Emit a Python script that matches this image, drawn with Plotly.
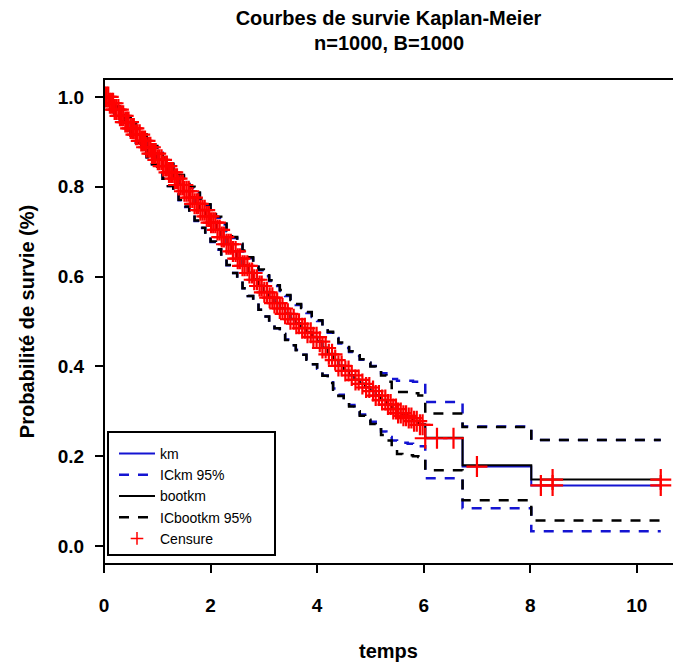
import numpy as np
import plotly.graph_objects as go

# ---------------- data ----------------
km_time = [0.0, 0.1, 0.2, 0.3, 0.4, 0.5, 0.6, 0.7, 0.8, 0.9,
           1.0, 1.1, 1.2, 1.3, 1.4, 1.5, 1.6, 1.7, 1.8, 1.9,
           2.0, 2.1, 2.2, 2.3, 2.4, 2.5, 2.6, 2.7, 2.8, 2.9,
           3.0, 3.1, 3.2, 3.3, 3.4, 3.5, 3.6, 3.7, 3.8, 3.9,
           4.0, 4.1, 4.2, 4.3, 4.4, 4.5, 4.6, 4.7, 4.8, 4.9,
           5.0, 5.1, 5.2, 5.3, 5.4, 5.5, 5.6, 5.7, 5.8, 5.9,
           6.03, 6.73, 8.02, 10.45]
km_surv = [1.000, 0.986, 0.972, 0.958, 0.944, 0.930, 0.916, 0.902, 0.888, 0.874,
           0.860, 0.846, 0.832, 0.818, 0.804, 0.790, 0.776, 0.762, 0.748, 0.734,
           0.720, 0.704, 0.688, 0.672, 0.656, 0.640, 0.624, 0.608, 0.593, 0.579,
           0.565, 0.553, 0.541, 0.529, 0.517, 0.505, 0.495, 0.485, 0.475, 0.465,
           0.455, 0.441, 0.427, 0.414, 0.401, 0.390, 0.380, 0.370, 0.361, 0.353,
           0.345, 0.335, 0.325, 0.315, 0.305, 0.296, 0.290, 0.285, 0.278, 0.270,
           0.240, 0.177, 0.135, 0.135]
km_low = [1.000, 0.981, 0.963, 0.946, 0.930, 0.914, 0.898, 0.882, 0.866, 0.850,
          0.834, 0.818, 0.802, 0.786, 0.770, 0.755, 0.739, 0.724, 0.708, 0.693,
          0.677, 0.660, 0.643, 0.625, 0.608, 0.591, 0.574, 0.557, 0.541, 0.526,
          0.511, 0.498, 0.485, 0.472, 0.460, 0.447, 0.437, 0.426, 0.416, 0.405,
          0.395, 0.380, 0.365, 0.351, 0.337, 0.325, 0.314, 0.303, 0.293, 0.285,
          0.277, 0.266, 0.255, 0.243, 0.235, 0.232, 0.230, 0.228, 0.226, 0.222,
          0.151, 0.084, 0.033, 0.033]
km_up = [1.000, 0.990, 0.979, 0.967, 0.954, 0.941, 0.928, 0.915, 0.902, 0.889,
         0.876, 0.863, 0.850, 0.837, 0.824, 0.811, 0.798, 0.785, 0.772, 0.759,
         0.746, 0.731, 0.716, 0.701, 0.686, 0.671, 0.656, 0.641, 0.627, 0.614,
         0.601, 0.590, 0.579, 0.568, 0.557, 0.546, 0.537, 0.528, 0.519, 0.510,
         0.501, 0.488, 0.475, 0.463, 0.451, 0.441, 0.432, 0.423, 0.415, 0.408,
         0.401, 0.393, 0.385, 0.378, 0.372, 0.368, 0.368, 0.368, 0.366, 0.362,
         0.321, 0.266, 0.236, 0.236]
boot_surv = [1.000, 0.986, 0.973, 0.959, 0.945, 0.931, 0.917, 0.903, 0.889, 0.875,
             0.861, 0.847, 0.833, 0.819, 0.805, 0.791, 0.777, 0.763, 0.749, 0.735,
             0.721, 0.705, 0.689, 0.673, 0.657, 0.641, 0.625, 0.609, 0.594, 0.580,
             0.566, 0.554, 0.542, 0.530, 0.518, 0.506, 0.496, 0.486, 0.476, 0.466,
             0.456, 0.442, 0.428, 0.415, 0.402, 0.391, 0.381, 0.371, 0.362, 0.354,
             0.346, 0.336, 0.326, 0.316, 0.306, 0.297, 0.291, 0.286, 0.279, 0.271,
             0.241, 0.180, 0.148, 0.148]
boot_low = [1.000, 0.981, 0.963, 0.946, 0.930, 0.914, 0.898, 0.882, 0.866, 0.850,
            0.834, 0.818, 0.802, 0.787, 0.771, 0.756, 0.740, 0.725, 0.709, 0.694,
            0.678, 0.661, 0.643, 0.626, 0.608, 0.591, 0.574, 0.557, 0.541, 0.526,
            0.511, 0.498, 0.485, 0.472, 0.459, 0.447, 0.436, 0.426, 0.415, 0.405,
            0.394, 0.379, 0.363, 0.348, 0.334, 0.322, 0.311, 0.300, 0.290, 0.281,
            0.272, 0.260, 0.247, 0.235, 0.222, 0.205, 0.203, 0.202, 0.200, 0.198,
            0.169, 0.102, 0.057, 0.057]
boot_up = [1.000, 0.990, 0.979, 0.968, 0.955, 0.942, 0.929, 0.917, 0.904, 0.891,
           0.878, 0.865, 0.852, 0.839, 0.826, 0.813, 0.800, 0.787, 0.774, 0.761,
           0.748, 0.733, 0.718, 0.703, 0.688, 0.673, 0.658, 0.643, 0.629, 0.616,
           0.603, 0.592, 0.581, 0.570, 0.559, 0.548, 0.539, 0.530, 0.521, 0.512,
           0.503, 0.490, 0.477, 0.465, 0.453, 0.443, 0.434, 0.425, 0.416, 0.408,
           0.400, 0.390, 0.380, 0.366, 0.352, 0.343, 0.343, 0.343, 0.340, 0.335,
           0.295, 0.265, 0.236, 0.236]

censor_time = [0.02, 0.05, 0.08, 0.11, 0.14, 0.17, 0.2, 0.23, 0.27, 0.3, 0.33, 0.36, 0.4,
               0.43, 0.46, 0.5, 0.53, 0.56, 0.6, 0.63, 0.67, 0.7, 0.73, 0.77, 0.8, 0.84,
               0.87, 0.9, 0.94, 0.97, 1.01, 1.04, 1.08, 1.11, 1.15, 1.18, 1.22, 1.26, 1.29,
               1.33, 1.37, 1.4, 1.44, 1.48, 1.51, 1.55, 1.59, 1.62, 1.66, 1.7, 1.74, 1.77,
               1.81, 1.85, 1.89, 1.93, 1.97, 2.01, 2.05, 2.09, 2.13, 2.17, 2.21, 2.25, 2.3,
               2.34, 2.38, 2.42, 2.47, 2.51, 2.55, 2.6, 2.64, 2.69, 2.73, 2.78, 2.82, 2.87,
               2.92, 2.96, 3.01, 3.06, 3.11, 3.16, 3.2, 3.25, 3.3, 3.35, 3.4, 3.45, 3.5,
               3.56, 3.61, 3.66, 3.72, 3.77, 3.82, 3.88, 3.93, 3.99, 4.05, 4.1, 4.16, 4.22,
               4.28, 4.34, 4.4, 4.46, 4.53, 4.59, 4.65, 4.72, 4.78, 4.85, 4.92, 4.98, 5.05,
               5.1, 5.16, 5.22, 5.28, 5.33, 5.38, 5.43, 5.48, 5.52, 5.57, 5.62, 5.67, 5.72,
               5.77, 5.82, 5.87, 5.93, 5.98, 6.03, 6.25, 6.56, 7.0, 8.2, 8.42, 10.45]
boot_censor_time = [8.42, 10.45]

x_ticks = [0, 2, 4, 6, 8, 10]
y_ticks = [0.0, 0.2, 0.4, 0.6, 0.8, 1.0]

title_line1 = "Courbes de survie Kaplan-Meier"
title_line2 = "n=1000, B=1000"
x_label = "temps"
y_label = "Probabilité de survie (%)"

# ---------------- figure ----------------
BLUE = "#1414d2"
BLACK = "#000000"
RED = "#ff0000"
FONT = "Liberation Sans, Arial, sans-serif"


def step_at(times, values, t):
    idx = np.searchsorted(np.asarray(times), np.asarray(t), side="right") - 1
    return np.asarray(values)[idx]


dash = "10px,9px"
fig = go.Figure()

fig.add_trace(go.Scatter(x=km_time, y=km_surv, mode="lines", line_shape="hv",
                         line=dict(color=BLUE, width=2), name="km"))
fig.add_trace(go.Scatter(x=km_time, y=km_low, mode="lines", line_shape="hv",
                         line=dict(color=BLUE, width=2.5, dash=dash),
                         name="ICkm 95%", legendgroup="ickm"))
fig.add_trace(go.Scatter(x=km_time, y=km_up, mode="lines", line_shape="hv",
                         line=dict(color=BLUE, width=2.5, dash=dash),
                         name="ICkm 95%", legendgroup="ickm", showlegend=False))
fig.add_trace(go.Scatter(x=km_time, y=boot_surv, mode="lines", line_shape="hv",
                         line=dict(color=BLACK, width=2), name="bootkm"))
fig.add_trace(go.Scatter(x=km_time, y=boot_low, mode="lines", line_shape="hv",
                         line=dict(color=BLACK, width=2.5, dash=dash),
                         name="ICbootkm 95%", legendgroup="icboot"))
fig.add_trace(go.Scatter(x=km_time, y=boot_up, mode="lines", line_shape="hv",
                         line=dict(color=BLACK, width=2.5, dash=dash),
                         name="ICbootkm 95%", legendgroup="icboot", showlegend=False))

cx = np.asarray(censor_time)
fig.add_trace(go.Scatter(x=cx, y=step_at(km_time, km_surv, cx), mode="markers",
                         marker=dict(symbol="cross-thin", size=15,
                                     line=dict(color=RED, width=2.2)),
                         name="Censure", showlegend=False))
bx = np.asarray(boot_censor_time)
fig.add_trace(go.Scatter(x=bx, y=step_at(km_time, boot_surv, bx), mode="markers",
                         marker=dict(symbol="cross-thin", size=15,
                                     line=dict(color=RED, width=2.2)),
                         name="Censure", showlegend=False))
# legend key for the censoring marks (smaller symbol, as in the reference)
fig.add_trace(go.Scatter(x=[None], y=[None], mode="markers",
                         marker=dict(symbol="cross-thin", size=9,
                                     line=dict(color=RED, width=1.5)),
                         name="Censure"))

# plot frame (open at the right, cut by the picture edge) and legend frame
fig.add_shape(type="rect", xref="paper", yref="paper", x0=0, x1=1.02, y0=0, y1=1,
              line=dict(color="black", width=2), layer="above")
fig.add_shape(type="rect", xref="paper", yref="paper",
              x0=4 / 569, x1=171 / 569, y0=9 / 485, y1=132 / 485,
              line=dict(color="black", width=2), fillcolor="white", layer="below")

fig.add_annotation(text=title_line2, xref="paper", x=0.5, xanchor="center",
                   yref="paper", y=(564 - 43) / 485, yanchor="middle", showarrow=False,
                   font=dict(size=20, family=FONT, weight="bold", color="black"))

fig.update_layout(
    width=673, height=670,
    margin=dict(l=104, r=0, t=79, b=106),
    paper_bgcolor="white", plot_bgcolor="white",
    font=dict(family=FONT, color="black"),
    title=dict(text=title_line1, x=0.5, xref="paper", xanchor="center",
               y=1 - 18 / 670, yref="container", yanchor="middle",
               font=dict(size=20, family=FONT, weight="bold", color="black")),
    showlegend=True,
    legend=dict(x=10 / 569, xanchor="left", y=126 / 485, yanchor="top",
                bgcolor="rgba(0,0,0,0)", borderwidth=0,
                font=dict(size=14, family=FONT), tracegroupgap=0, itemwidth=36),
    xaxis=dict(range=[0, 10.68], tickvals=x_ticks, ticktext=[str(v) for v in x_ticks],
               showgrid=False, zeroline=False, showline=False,
               ticks="outside", ticklen=8, tickwidth=1.5, tickcolor="black",
               ticklabelstandoff=16,
               tickfont=dict(size=19, family=FONT, weight="bold"),
               title=dict(text=x_label, standoff=29,
                          font=dict(size=20, family=FONT, weight="bold"))),
    yaxis=dict(range=[-0.04, 1.04], tickvals=y_ticks,
               ticktext=["%.1f" % v for v in y_ticks],
               showgrid=False, zeroline=False, showline=False,
               ticks="outside", ticklen=8, tickwidth=1.5, tickcolor="black",
               ticklabelstandoff=7,
               tickfont=dict(size=19, family=FONT, weight="bold"),
               title=dict(text=y_label, standoff=17,
                          font=dict(size=20, family=FONT, weight="bold"))),
)

fig.write_html("out.html")
